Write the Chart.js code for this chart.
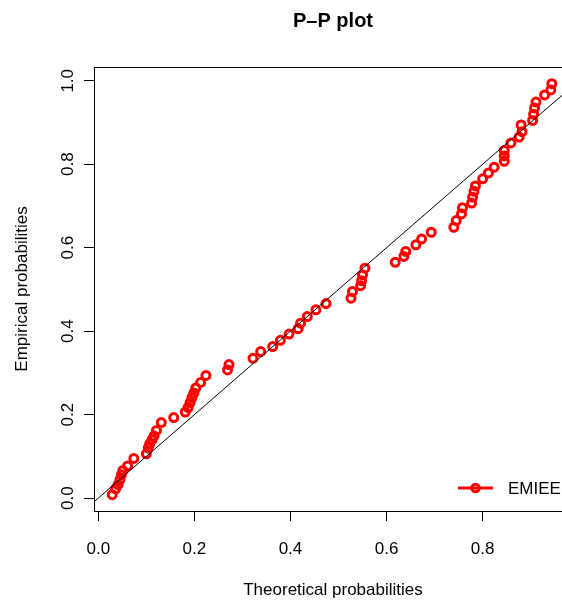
<!DOCTYPE html>
<html>
<head>
<meta charset="utf-8">
<title>P-P plot</title>
<script src="https://cdn.jsdelivr.net/npm/chart.js@4/dist/chart.umd.min.js"></script>
<style>
  html, body { margin: 0; padding: 0; background: #fff; overflow: hidden; }
  #wrap { width: 562px; height: 604px; overflow: hidden; }
</style>
</head>
<body>
<div id="wrap"><canvas id="ppChart" width="600" height="604"></canvas></div>
<script>
// Theoretical vs empirical probabilities
const theoretical = [
  0.029, 0.036, 0.041, 0.045, 0.048, 0.051, 0.061, 0.074, 0.100, 0.104,
  0.107, 0.112, 0.116, 0.121, 0.131, 0.157, 0.181, 0.187, 0.191, 0.195,
  0.199, 0.203, 0.213, 0.224, 0.269, 0.272, 0.322, 0.338, 0.363, 0.379,
  0.397, 0.416, 0.421, 0.435, 0.453, 0.474, 0.526, 0.529, 0.546, 0.548,
  0.550, 0.555, 0.618, 0.636, 0.640, 0.661, 0.673, 0.693, 0.740, 0.745,
  0.756, 0.758, 0.777, 0.779, 0.782, 0.785, 0.800, 0.812, 0.824, 0.845,
  0.845, 0.845, 0.859, 0.876, 0.882, 0.880, 0.904, 0.906, 0.908, 0.911,
  0.929, 0.942, 0.944
];
const empirical = [
  0.008, 0.022, 0.032, 0.044, 0.056, 0.066, 0.077, 0.095, 0.106, 0.120,
  0.130, 0.140, 0.149, 0.162, 0.181, 0.193, 0.206, 0.217, 0.229, 0.241,
  0.252, 0.264, 0.277, 0.294, 0.307, 0.320, 0.335, 0.351, 0.363, 0.378,
  0.393, 0.406, 0.419, 0.435, 0.451, 0.466, 0.479, 0.495, 0.509, 0.521,
  0.535, 0.551, 0.565, 0.579, 0.591, 0.607, 0.621, 0.637, 0.649, 0.665,
  0.681, 0.696, 0.707, 0.721, 0.735, 0.748, 0.765, 0.779, 0.793, 0.807,
  0.820, 0.833, 0.851, 0.865, 0.878, 0.894, 0.905, 0.920, 0.935, 0.949,
  0.966, 0.978, 0.993
];
const diagonal = [-0.1, 1.1];   // y = x reference line
const xTicks = [0, 0.2, 0.4, 0.6, 0.8];
const yTicks = [0, 0.2, 0.4, 0.6, 0.8, 1.0];
const seriesName = 'EMIEE';

const FONT = "'Liberation Sans', Arial, sans-serif";

// box top edge, title and the legend inside the plot
const extras = {
  id: 'extras',
  afterDraw(chart) {
    const { ctx, chartArea: a } = chart;
    ctx.save();
    ctx.strokeStyle = '#000';
    ctx.lineWidth = 1;
    ctx.beginPath();
    ctx.moveTo(a.left, Math.round(a.top) + 0.5);
    ctx.lineTo(a.right, Math.round(a.top) + 0.5);
    ctx.stroke();

    ctx.fillStyle = '#000';
    ctx.font = 'bold 20px ' + FONT;
    ctx.textAlign = 'center';
    ctx.textBaseline = 'middle';
    ctx.fillText('P\u2013P plot', (a.left + a.right) / 2, 21);

    // legend
    const ly = a.bottom - 23;
    ctx.strokeStyle = '#ff0000';
    ctx.lineWidth = 3;
    ctx.beginPath();
    ctx.moveTo(a.right - 114, ly);
    ctx.lineTo(a.right - 79, ly);
    ctx.stroke();
    ctx.beginPath();
    ctx.arc(a.right - 96.5, ly, 3.8, 0, Math.PI * 2);
    ctx.stroke();
    ctx.fillStyle = '#000';
    ctx.font = '17px ' + FONT;
    ctx.textAlign = 'left';
    ctx.fillText(seriesName, a.right - 64, ly + 1);
    ctx.restore();
  }
};

new Chart(document.getElementById('ppChart'), {
  type: 'scatter',
  data: {
    datasets: [
      {
        label: 'y = x',
        type: 'line',
        data: diagonal.map(v => ({ x: v, y: v })),
        borderColor: '#000',
        borderWidth: 1,
        pointRadius: 0,
        fill: false,
        order: 0
      },
      {
        label: seriesName,
        data: theoretical.map((x, i) => ({ x: x, y: empirical[i] })),
        showLine: false,
        pointStyle: 'circle',
        pointRadius: 4,
        pointBorderWidth: 3,
        borderColor: '#ff0000',
        backgroundColor: 'rgba(0,0,0,0)',
        order: 1
      }
    ]
  },
  options: {
    responsive: false,
    animation: false,
    devicePixelRatio: 1,
    layout: { padding: { top: 67, right: 28, bottom: 0, left: 0 } },
    plugins: {
      legend: { display: false },
      tooltip: { enabled: false },
      title: { display: false }
    },
    scales: {
      x: {
        type: 'linear',
        min: -0.009,
        max: 0.986,
        afterFit: s => { s.height = 93; },
        afterBuildTicks: s => { s.ticks = xTicks.map(v => ({ value: v })); },
        border: { display: true, color: '#000', width: 1 },
        grid: { drawOnChartArea: false, tickLength: 10, tickColor: '#000', color: '#000' },
        ticks: {
          maxRotation: 0,
          padding: 18,
          color: '#000',
          font: { family: FONT, size: 17 },
          callback: v => v.toFixed(1)
        },
        title: {
          display: true,
          text: 'Theoretical probabilities',
          color: '#000',
          font: { family: FONT, size: 17 },
          padding: { top: 0, bottom: 3 }
        }
      },
      y: {
        type: 'linear',
        min: -0.031,
        max: 1.033,
        afterFit: s => { s.width = 94; },
        afterBuildTicks: s => { s.ticks = yTicks.map(v => ({ value: v })); },
        border: { display: true, color: '#000', width: 1 },
        grid: { drawOnChartArea: false, tickLength: 10, tickColor: '#000', color: '#000' },
        ticks: {
          minRotation: 90,
          maxRotation: 90,
          crossAlign: 'center',
          padding: 4,
          color: '#000',
          font: { family: FONT, size: 17 },
          callback: v => v.toFixed(1)
        },
        title: {
          display: true,
          text: 'Empirical probabilities',
          color: '#000',
          font: { family: FONT, size: 17 },
          padding: { top: 12, bottom: 0 }
        }
      }
    }
  },
  plugins: [extras]
});
</script>
</body>
</html>
